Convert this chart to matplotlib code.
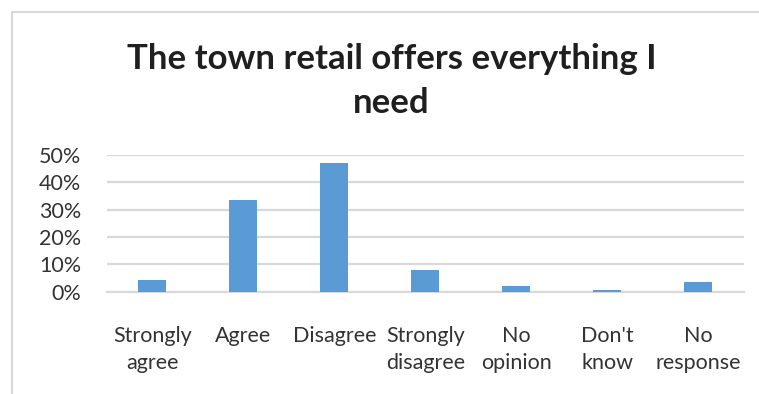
import matplotlib.pyplot as plt
from matplotlib.patches import Rectangle
import numpy as np

categories = ["Strongly\nagree", "Agree", "Disagree", "Strongly\ndisagree",
              "No\nopinion", "Don't\nknow", "No\nresponse"]
shares = [0.043, 0.336, 0.470, 0.079, 0.022, 0.007, 0.036]
yticks = [0.0, 0.1, 0.2, 0.3, 0.4, 0.5]
title_lines = ["The town retail offers everything I", "need"]

plt.rcParams['font.family'] = ['Lato', 'DejaVu Sans']

fig = plt.figure(figsize=(7.59, 3.94), dpi=100)
ax = fig.add_axes([0.1406, 0.2596, 0.8394, 0.347])

x = np.arange(len(categories))
ax.bar(x, shares, width=0.31, color='#5B9BD5', zorder=3)

ax.set_xlim(-0.5, len(categories) - 0.5)
ax.set_ylim(0, 0.5)
ax.set_yticks(yticks)
ax.set_yticklabels([f"{int(round(v * 100))}%" for v in yticks])
ax.set_xticks(x)
ax.set_xticklabels(categories, linespacing=1.42, va='top')

ax.grid(axis='y', color='#d9d9d9', linewidth=1.6, zorder=0)
for side in ['top', 'right', 'left']:
    ax.spines[side].set_visible(False)
ax.spines['bottom'].set_color('#d9d9d9')
ax.spines['bottom'].set_linewidth(1.6)
ax.tick_params(axis='both', length=0, labelsize=15.5, colors='#333333')
ax.tick_params(axis='x', pad=25)
ax.tick_params(axis='y', pad=18.5)

# two-line bold title, placed by baseline
for line, ypos in zip(title_lines, [1 - 69 / 394, 1 - 113 / 394]):
    fig.text(0.516, ypos, line, ha='center', va='baseline', fontsize=25,
             fontweight='bold', color='#1f1f1f')

# chart frame, cut off at right and bottom
fig.patches.append(Rectangle((12 / 759, -0.1), 1.2, 1 - 12 / 394 + 0.1,
                             transform=fig.transFigure, fill=False,
                             edgecolor='#d9d9d9', linewidth=1.5))

fig.savefig("out.png", dpi=100)
